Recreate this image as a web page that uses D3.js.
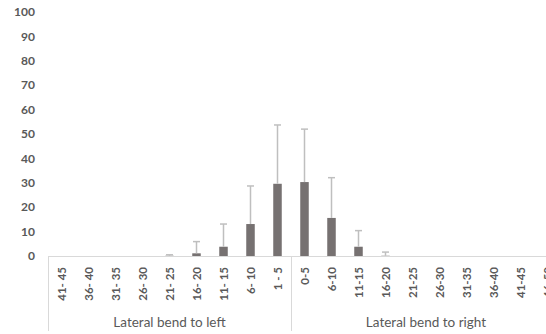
<!DOCTYPE html>
<html><head><meta charset="utf-8">
<script src="https://cdn.jsdelivr.net/npm/d3@7"></script>
<style>html,body{margin:0;padding:0;background:#fff;overflow:hidden}</style>
</head><body>
<svg id="chart" width="546" height="334"></svg>
<script>
const leftGroup = "Lateral bend to left";
const rightGroup = "Lateral bend to right";
const leftCats = ["41- 45","36- 40","31- 35","26- 30","21- 25","16- 20","11- 15","6- 10","1 - 5"];
const leftMeans = [0,0,0,0,0.1,1.1,3.8,13.1,29.6];
const leftErr = [0,0,0,0,0.4,4.8,9.3,15.6,24.1];
const rightCats = ["0-5","6-10","11-15","16-20","21-25","26-30","31-35","36-40","41-45","46-50"];
const rightMeans = [30.3,15.6,3.8,0.1,0,0,0,0,0,0];
const rightErr = [21.7,16.5,6.6,1.5,0,0,0,0,0,0];
const yTicks = [0,10,20,30,40,50,60,70,80,90,100];

const data = [];
leftCats.forEach((c,i)=>data.push({key:"L"+i,label:c,mean:leftMeans[i],err:leftErr[i]}));
rightCats.forEach((c,i)=>data.push({key:"R"+i,label:c,mean:rightMeans[i],err:rightErr[i]}));

const svg = d3.select("#chart");
const x0 = 48, x1 = 561, yBase = 256, yTop = 12;
const x = d3.scaleBand().domain(data.map(d=>d.key)).range([x0,x1]).paddingInner(0.685).paddingOuter(0.3425);
const y = d3.scaleLinear().domain([0,100]).range([yBase,yTop]);
const step = x.step();
const textCol = "#595959", lineCol = "#d9d9d9";
const font = "Lato, 'Open Sans', sans-serif";

// y tick labels
svg.append("g").selectAll("text").data(yTicks).join("text")
  .attr("x",35).attr("y",d=>y(d)).attr("dy","0.35em")
  .attr("text-anchor","end").attr("font-family",font).attr("font-size",12).attr("font-weight","bold")
  .attr("fill",textCol).text(d=>d);

// bars
svg.append("g").selectAll("rect").data(data.filter(d=>d.mean>0)).join("rect")
  .attr("x",d=>x(d.key)).attr("width",x.bandwidth())
  .attr("y",d=>y(d.mean)).attr("height",d=>y(0)-y(d.mean))
  .attr("fill","#767171");

// error bars
const eb = svg.append("g").attr("stroke","#bfbfbf").attr("stroke-width",1.5);
data.filter(d=>d.err>0).forEach(d=>{
  const cx = x(d.key)+x.bandwidth()/2;
  eb.append("line").attr("x1",cx).attr("x2",cx).attr("y1",y(d.mean)).attr("y2",y(d.mean+d.err));
  eb.append("line").attr("x1",cx-3.5).attr("x2",cx+3.5).attr("y1",y(d.mean+d.err)).attr("y2",y(d.mean+d.err));
});

// axis lines
const ax = svg.append("g").attr("stroke",lineCol).attr("stroke-width",1);
ax.append("line").attr("x1",x0).attr("x2",x1).attr("y1",yBase+0.5).attr("y2",yBase+0.5);
const sepX = x0 + step*leftCats.length;
[x0, sepX, x1].forEach(v=>{
  ax.append("line").attr("x1",Math.round(v)+0.5).attr("x2",Math.round(v)+0.5).attr("y1",yBase).attr("y2",331);
});

// category labels (rotated)
svg.append("g").selectAll("text").data(data).join("text")
  .attr("transform",d=>`translate(${x(d.key)+x.bandwidth()/2},267) rotate(-90)`)
  .attr("dy","0.35em").attr("text-anchor","end")
  .attr("font-family",font).attr("font-size",11.5).attr("font-weight","bold")
  .attr("fill",textCol).text(d=>d.label);

// group labels
svg.append("text").attr("x",(x0+sepX)/2).attr("y",322).attr("dy","0.35em").attr("text-anchor","middle")
  .attr("font-family",font).attr("font-size",13.5).attr("fill",textCol).text(leftGroup);
svg.append("text").attr("x",(sepX+x1)/2).attr("y",322).attr("dy","0.35em").attr("text-anchor","middle")
  .attr("font-family",font).attr("font-size",13.5).attr("fill",textCol).text(rightGroup);
</script>
</body></html>
